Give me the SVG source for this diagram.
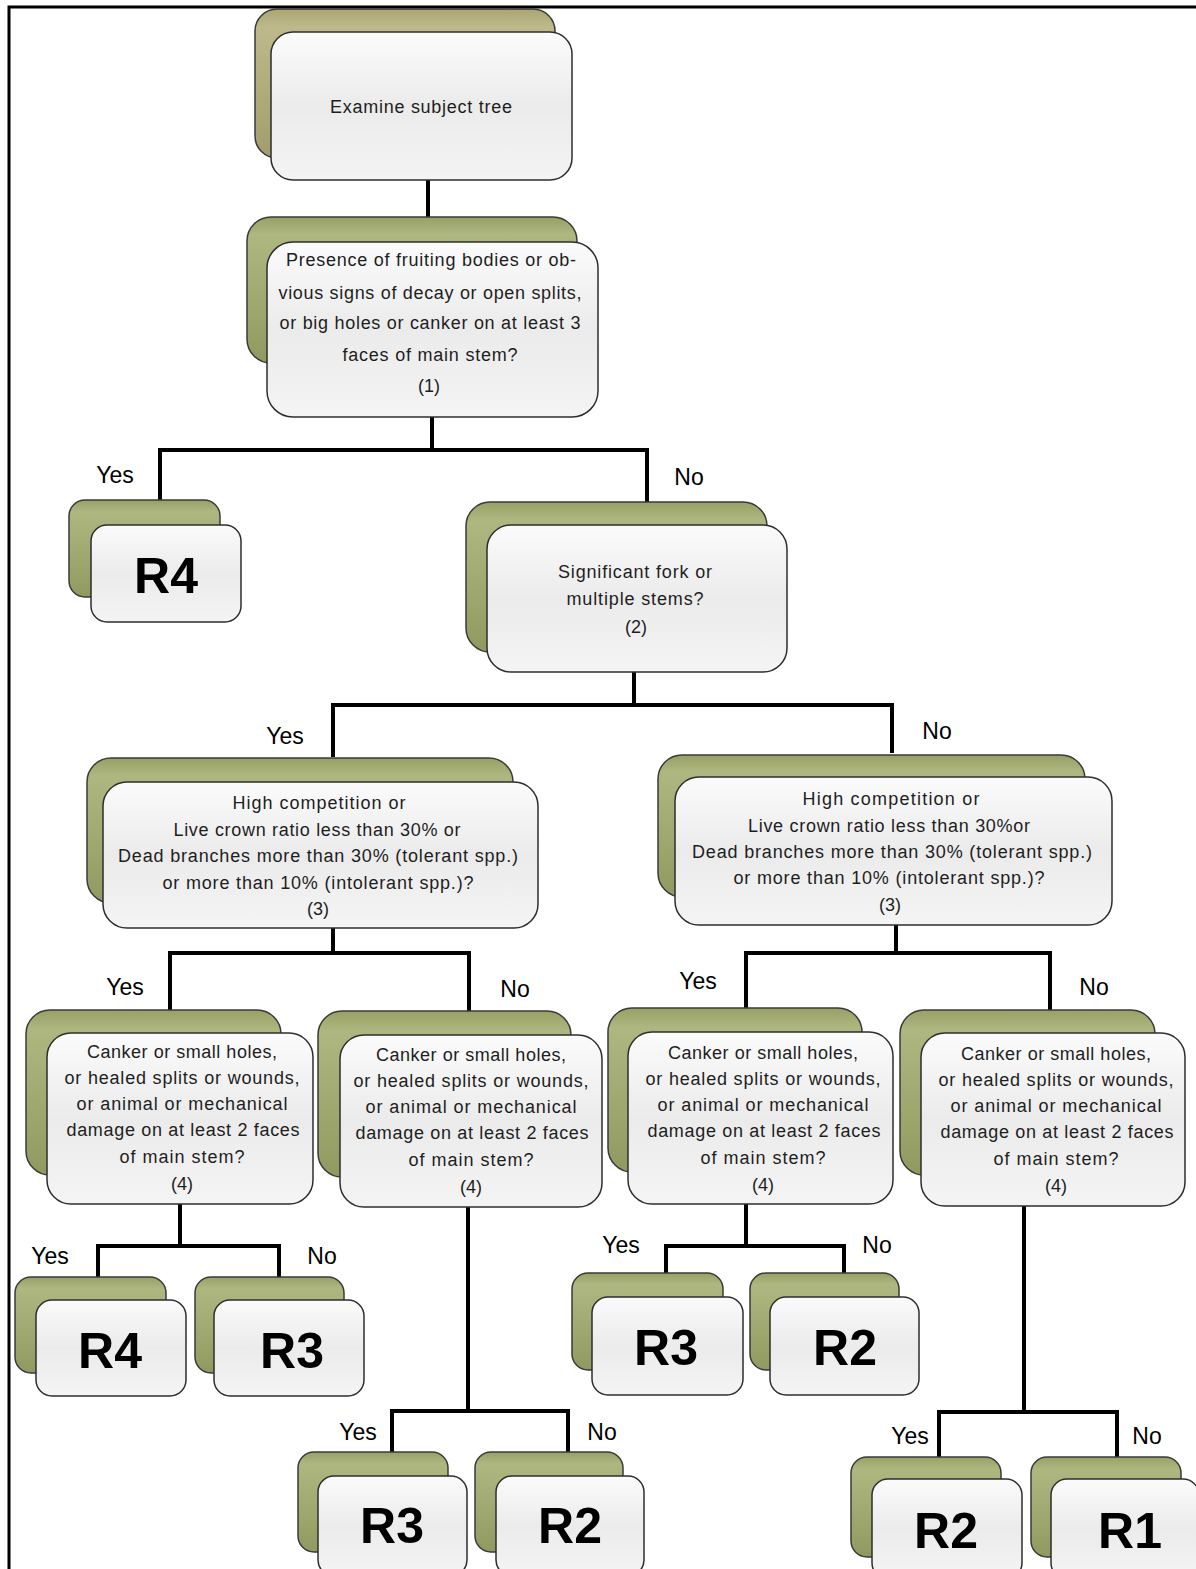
<svg xmlns="http://www.w3.org/2000/svg" width="1196" height="1569" viewBox="0 0 1196 1569">
  <defs>
    <linearGradient id="olive" x1="0" y1="0" x2="0" y2="1">
      <stop offset="0" stop-color="#98a066"/>
      <stop offset="0.12" stop-color="#aeb780"/>
      <stop offset="1" stop-color="#909a60"/>
    </linearGradient>
    <linearGradient id="khaki" x1="0" y1="0" x2="0" y2="1">
      <stop offset="0" stop-color="#a9a574"/>
      <stop offset="0.12" stop-color="#bdb98a"/>
      <stop offset="1" stop-color="#a29d6c"/>
    </linearGradient>
    <linearGradient id="pale" x1="0" y1="0" x2="0" y2="1">
      <stop offset="0" stop-color="#fbfbfb"/>
      <stop offset="0.5" stop-color="#ebebeb"/>
      <stop offset="1" stop-color="#f4f4f4"/>
    </linearGradient>
  </defs>
  <style>
    .back { fill: url(#olive); stroke: #3a3a3a; stroke-width: 1.5; }
    .back.tan { fill: url(#khaki); }
    .front { fill: url(#pale); stroke: #2e2e2e; stroke-width: 1.5; }
    .q { font-family: "Liberation Sans", Arial, sans-serif; font-size: 18px; fill: #1e1e1e; text-anchor: middle; }
    .r { font-family: "Liberation Sans", Arial, sans-serif; font-size: 50px; font-weight: bold; fill: #000; text-anchor: middle; }
    .lbl { font-family: "Liberation Sans", Arial, sans-serif; font-size: 23px; fill: #000; text-anchor: middle; }
    .wire { fill: none; stroke: #000; stroke-width: 4; stroke-linejoin: miter; }
    .frame { fill: none; stroke: #000; stroke-width: 3; }
  </style>

  <rect width="1196" height="1569" fill="#ffffff"/>
  <path class="frame" d="M9 1569 V7 H1196"/>

  <!-- connectors -->
  <g id="connectors">
    <path class="wire" d="M428 180 V217"/>
    <path class="wire" d="M432 417 V450 M160 500 V450 H647 V502"/>
    <path class="wire" d="M634 672 V705 M333 757 V705 H892 V753"/>
    <path class="wire" d="M333 928 V953 M170 1010 V953 H469 V1011"/>
    <path class="wire" d="M896 925 V953 M746 1008 V953 H1050 V1010"/>
    <path class="wire" d="M180 1204 V1246 M98 1277 V1246 H279 V1277"/>
    <path class="wire" d="M468 1207 V1411 M392 1452 V1411 H568 V1452"/>
    <path class="wire" d="M746 1204 V1246 M666 1273 V1246 H844 V1273"/>
    <path class="wire" d="M1024 1206 V1412 M939 1457 V1412 H1117 V1457"/>
    <text class="lbl" x="115" y="483">Yes</text>
    <text class="lbl" x="689" y="485">No</text>
    <text class="lbl" x="285" y="744">Yes</text>
    <text class="lbl" x="937" y="739">No</text>
    <text class="lbl" x="125" y="995">Yes</text>
    <text class="lbl" x="515" y="997">No</text>
    <text class="lbl" x="698" y="989">Yes</text>
    <text class="lbl" x="1094" y="995">No</text>
    <text class="lbl" x="50" y="1264">Yes</text>
    <text class="lbl" x="322" y="1264">No</text>
    <text class="lbl" x="358" y="1440">Yes</text>
    <text class="lbl" x="602" y="1440">No</text>
    <text class="lbl" x="621" y="1253">Yes</text>
    <text class="lbl" x="877" y="1253">No</text>
    <text class="lbl" x="910" y="1444">Yes</text>
    <text class="lbl" x="1147" y="1444">No</text>
  </g>

  <!-- start -->
  <g id="examine">
    <rect class="back tan" x="255" y="9" width="300" height="149" rx="22"/>
    <rect class="front" x="271" y="32" width="301" height="148" rx="22"/>
    <text class="q" x="421" y="113" textLength="182">Examine subject tree</text>
  </g>

  <!-- question 1 -->
  <g id="q1-decay">
    <rect class="back" x="247" y="217" width="330" height="146" rx="24"/>
    <rect class="front" x="267" y="242" width="331" height="175" rx="26"/>
    <text class="q" x="431" y="266" textLength="290">Presence of fruiting bodies or ob-</text>
    <text class="q" x="430" y="299" textLength="303">vious signs of decay or open splits,</text>
    <text class="q" x="430" y="329" textLength="301">or big holes or canker on at least 3</text>
    <text class="q" x="430" y="361" textLength="175">faces of main stem?</text>
    <text class="q" x="429" y="392">(1)</text>
  </g>

  <g id="r4-top">
    <rect class="back" x="69" y="500" width="151" height="97" rx="16"/>
    <rect class="front" x="91" y="525" width="150" height="97" rx="16"/>
    <text class="r" x="166" y="593">R4</text>
  </g>

  <!-- question 2 -->
  <g id="q2-fork">
    <rect class="back" x="466" y="502" width="301" height="150" rx="24"/>
    <rect class="front" x="487" y="525" width="300" height="147" rx="24"/>
    <text class="q" x="635" y="578" textLength="154">Significant fork or</text>
    <text class="q" x="635" y="605" textLength="137">multiple stems?</text>
    <text class="q" x="636" y="633">(2)</text>
  </g>

  <!-- question 3, fork branch -->
  <g id="q3-yes">
    <rect class="back" x="87" y="758" width="426" height="145" rx="24"/>
    <rect class="front" x="103" y="782" width="435" height="146" rx="24"/>
    <text class="q" x="319" y="809" textLength="173">High competition or</text>
    <text class="q" x="317" y="836" textLength="287">Live crown ratio less than 30% or</text>
    <text class="q" x="318" y="862" textLength="400">Dead branches more than 30% (tolerant spp.)</text>
    <text class="q" x="318" y="889" textLength="311">or more than 10% (intolerant spp.)?</text>
    <text class="q" x="318" y="915">(3)</text>
  </g>

  <!-- question 3, single stem branch -->
  <g id="q3-no">
    <rect class="back" x="658" y="755" width="427" height="142" rx="24"/>
    <rect class="front" x="675" y="777" width="437" height="148" rx="24"/>
    <text class="q" x="891" y="805" textLength="177">High competition or</text>
    <text class="q" x="889" y="832" textLength="282">Live crown ratio less than 30%or</text>
    <text class="q" x="892" y="858" textLength="400">Dead branches more than 30% (tolerant spp.)</text>
    <text class="q" x="889" y="884" textLength="311">or more than 10% (intolerant spp.)?</text>
    <text class="q" x="890" y="911">(3)</text>
  </g>

  <!-- question 4 boxes -->
  <g id="q4-a">
    <rect class="back" x="26" y="1010" width="255" height="165" rx="24"/>
    <rect class="front" x="47" y="1033" width="266" height="171" rx="24"/>
    <text class="q" x="182" y="1058" textLength="190">Canker or small holes,</text>
    <text class="q" x="182" y="1084" textLength="235">or healed splits or wounds,</text>
    <text class="q" x="182" y="1110" textLength="211">or animal or mechanical</text>
    <text class="q" x="183" y="1136" textLength="233">damage on at least 2 faces</text>
    <text class="q" x="182" y="1163" textLength="125">of main stem?</text>
    <text class="q" x="182" y="1190">(4)</text>
  </g>

  <g id="q4-b">
    <rect class="back" x="318" y="1011" width="253" height="166" rx="24"/>
    <rect class="front" x="340" y="1035" width="262" height="172" rx="24"/>
    <text class="q" x="471" y="1061" textLength="190">Canker or small holes,</text>
    <text class="q" x="471" y="1087" textLength="235">or healed splits or wounds,</text>
    <text class="q" x="471" y="1113" textLength="211">or animal or mechanical</text>
    <text class="q" x="472" y="1139" textLength="233">damage on at least 2 faces</text>
    <text class="q" x="471" y="1166" textLength="125">of main stem?</text>
    <text class="q" x="471" y="1193">(4)</text>
  </g>

  <g id="q4-c">
    <rect class="back" x="608" y="1008" width="254" height="164" rx="24"/>
    <rect class="front" x="628" y="1032" width="265" height="172" rx="24"/>
    <text class="q" x="763" y="1059" textLength="190">Canker or small holes,</text>
    <text class="q" x="763" y="1085" textLength="235">or healed splits or wounds,</text>
    <text class="q" x="763" y="1111" textLength="211">or animal or mechanical</text>
    <text class="q" x="764" y="1137" textLength="233">damage on at least 2 faces</text>
    <text class="q" x="763" y="1164" textLength="125">of main stem?</text>
    <text class="q" x="763" y="1191">(4)</text>
  </g>

  <g id="q4-d">
    <rect class="back" x="900" y="1010" width="255" height="165" rx="24"/>
    <rect class="front" x="921" y="1033" width="264" height="173" rx="24"/>
    <text class="q" x="1056" y="1060" textLength="190">Canker or small holes,</text>
    <text class="q" x="1056" y="1086" textLength="235">or healed splits or wounds,</text>
    <text class="q" x="1056" y="1112" textLength="211">or animal or mechanical</text>
    <text class="q" x="1057" y="1138" textLength="233">damage on at least 2 faces</text>
    <text class="q" x="1056" y="1165" textLength="125">of main stem?</text>
    <text class="q" x="1056" y="1192">(4)</text>
  </g>

  <!-- ratings -->
  <g id="r4-a">
    <rect class="back" x="15" y="1277" width="151" height="96" rx="16"/>
    <rect class="front" x="36" y="1300" width="150" height="96" rx="16"/>
    <text class="r" x="110" y="1368">R4</text>
  </g>
  <g id="r3-a">
    <rect class="back" x="195" y="1277" width="149" height="96" rx="16"/>
    <rect class="front" x="214" y="1300" width="150" height="96" rx="16"/>
    <text class="r" x="292" y="1368">R3</text>
  </g>
  <g id="r3-b">
    <rect class="back" x="298" y="1452" width="150" height="100" rx="16"/>
    <rect class="front" x="318" y="1476" width="149" height="100" rx="16"/>
    <text class="r" x="392" y="1543">R3</text>
  </g>
  <g id="r2-a">
    <rect class="back" x="475" y="1452" width="148" height="100" rx="16"/>
    <rect class="front" x="496" y="1476" width="148" height="100" rx="16"/>
    <text class="r" x="570" y="1543">R2</text>
  </g>
  <g id="r3-c">
    <rect class="back" x="572" y="1273" width="151" height="97" rx="16"/>
    <rect class="front" x="592" y="1297" width="151" height="98" rx="16"/>
    <text class="r" x="666" y="1365">R3</text>
  </g>
  <g id="r2-b">
    <rect class="back" x="750" y="1273" width="149" height="97" rx="16"/>
    <rect class="front" x="770" y="1297" width="149" height="98" rx="16"/>
    <text class="r" x="845" y="1365">R2</text>
  </g>
  <g id="r2-c">
    <rect class="back" x="851" y="1457" width="150" height="100" rx="16"/>
    <rect class="front" x="872" y="1479" width="150" height="100" rx="16"/>
    <text class="r" x="946" y="1548">R2</text>
  </g>
  <g id="r1">
    <rect class="back" x="1031" y="1457" width="150" height="100" rx="16"/>
    <rect class="front" x="1051" y="1479" width="148" height="100" rx="16"/>
    <text class="r" x="1130" y="1548">R1</text>
  </g>
</svg>
